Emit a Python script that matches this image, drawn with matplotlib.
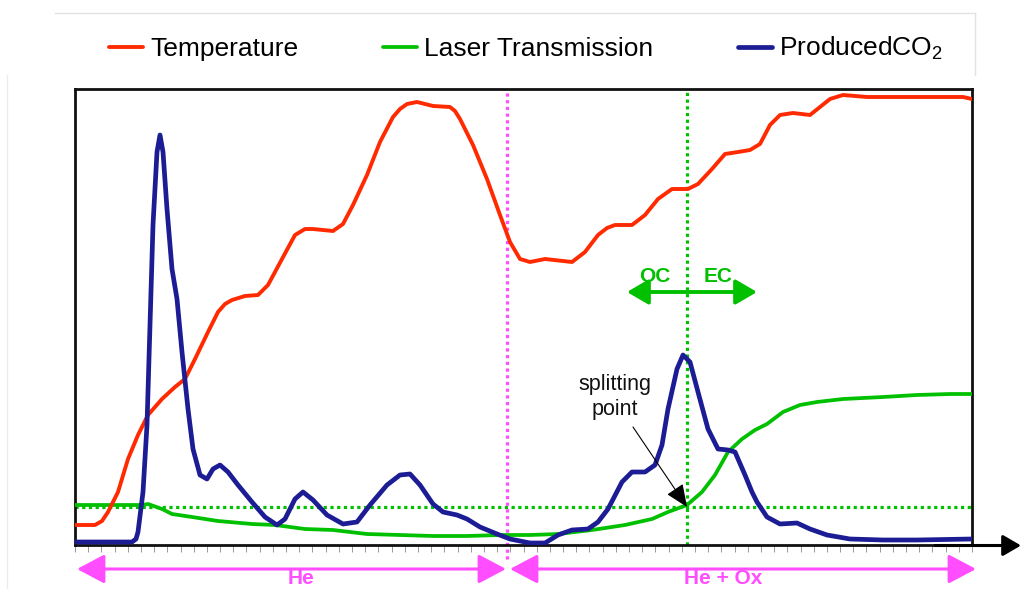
import matplotlib
matplotlib.use("Agg")
import matplotlib.pyplot as plt
from matplotlib.lines import Line2D
import numpy as np

plt.rcParams['font.family'] = ['Liberation Sans', 'DejaVu Sans']
plt.rcParams['mathtext.fontset'] = 'custom'
plt.rcParams['mathtext.rm'] = 'Liberation Sans'
plt.rcParams['mathtext.default'] = 'regular'

# ---------------- data (time in arbitrary units, signal in arbitrary units) -------------
temp_t = [0, 20, 27, 33, 43, 53, 63, 73, 87, 100, 110, 120, 133, 143, 150, 157, 170, 183, 193, 207, 220,
          230, 238, 258, 268, 278, 292, 305, 318, 325, 332, 342, 358, 375, 380, 385, 398, 412, 425, 435,
          445, 455, 470, 497, 510, 523, 532, 540, 557, 570, 583, 597, 613, 623, 637, 650, 663, 675,
          685, 695, 705, 718, 735, 745, 755, 768, 792, 825, 858, 888, 897]
temp_v = [20, 20, 24, 33, 53, 86, 110, 130, 146, 158, 166, 186, 213, 233, 241, 245, 249, 250, 260, 286, 310,
          316, 316, 314, 321, 340, 370, 403, 428, 436, 441, 443, 439, 438, 434, 426, 400, 366, 330, 303,
          286, 283, 286, 283, 293, 310, 317, 320, 320, 330, 346, 356, 356, 361, 376, 391, 393, 395,
          401, 420, 430, 432, 430, 438, 446, 450, 448, 448, 448, 448, 446]

laser_t = [0, 67, 73, 87, 97, 117, 143, 177, 200, 230, 258, 292, 325, 358, 392, 425, 455, 483,
           517, 550, 577, 593, 612, 627, 640, 653, 667, 680, 692, 708, 725, 742, 768, 808, 842,
           875, 897]
laser_v = [40, 40, 41, 36, 31, 28, 24, 21, 20, 16, 15, 11, 10, 9, 9, 10, 10, 11,
           15, 20, 26, 33, 40, 53, 70, 93, 106, 115, 121, 133, 140, 143, 146, 148, 150,
           151, 151]

co2_t = [0, 57, 61, 63, 68, 72, 75, 78, 82, 85, 88, 92, 97, 102, 107, 113, 118, 125, 132, 138, 145,
         153, 163, 177, 190, 202, 210, 220, 228, 238, 252, 268, 282, 295, 312, 325, 335, 345,
         358, 368, 382, 392, 405, 422, 435, 455, 470, 483, 497, 513, 523, 533, 547, 557, 570,
         580, 587, 593, 602, 608, 615, 623, 633, 643, 653, 660, 670, 677, 682, 692, 705, 722,
         735, 752, 775, 808, 842, 897]
co2_v = [3, 3, 6, 13, 53, 120, 220, 320, 393, 410, 393, 336, 276, 246, 193, 136, 96, 70, 66, 76, 80,
         73, 60, 43, 28, 20, 26, 46, 53, 45, 30, 21, 23, 40, 60, 70, 71, 60,
         41, 33, 30, 26, 18, 11, 6, 2, 2, 10, 15, 16, 23, 36, 63, 73, 73,
         80, 100, 136, 176, 190, 183, 153, 116, 96, 95, 93, 70, 53, 43, 28, 21, 22,
         16, 10, 6, 5, 5, 6]

series_labels = ['Temperature', 'Laser Transmission', 'ProducedCO$_2$']
phase_labels = ['He', 'He + Ox']
split_time = 612          # splitting point (time)
split_level = 38          # initial laser transmission level
gas_switch_time = 432     # He -> He + Ox
x_max, y_max = 897, 456
n_ticks = 68

RED = '#FF2A00'
GREEN = '#00C000'
NAVY = '#1C1C94'
MAGENTA = '#FF4DFF'

# ---------------- figure ----------------
W, H = 1021, 589
fig = plt.figure(figsize=(W / 100, H / 100), dpi=100)
ax = fig.add_axes([75 / W, 44 / H, 897 / W, 456 / H])
ax.set_xlim(0, x_max)
ax.set_ylim(0, y_max)

# faint page frame lines
fig.add_artist(Line2D([55 / W, 975 / W], [1 - 13 / H, 1 - 13 / H], color='#e2e2e2', lw=1))
fig.add_artist(Line2D([975 / W, 975 / W], [1 - 13 / H, 1 - 75 / H], color='#e2e2e2', lw=1))
fig.add_artist(Line2D([7 / W, 7 / W], [1 - 75 / H, 0], color='#ececec', lw=1))

# reference dotted lines
ax.axhline(split_level, color=GREEN, lw=2.3, ls=(0, (1, 1.1)), zorder=1)
ax.plot([split_time, split_time], [0, y_max - 2], color=GREEN, lw=2.3, ls=(0, (1, 1.1)), zorder=1)
ax.plot([gas_switch_time, gas_switch_time], [-14, y_max - 2], color=MAGENTA, lw=2.3,
        ls=(0, (1, 1.1)), zorder=1, clip_on=False)

# series
l_laser, = ax.plot(laser_t, laser_v, color=GREEN, lw=2.7, zorder=3,
                   solid_joinstyle='round', solid_capstyle='round')
l_temp, = ax.plot(temp_t, temp_v, color=RED, lw=2.8, zorder=4,
                  solid_joinstyle='round', solid_capstyle='round')
l_co2, = ax.plot(co2_t, co2_v, color=NAVY, lw=3.4, zorder=5,
                 solid_joinstyle='round', solid_capstyle='round')

# frame / ticks
for s in ax.spines.values():
    s.set_linewidth(2.0)
    s.set_color('#111111')
ax.set_yticks([])
ax.set_xticks(np.linspace(0, x_max, n_ticks + 1))
ax.tick_params(axis='x', direction='out', length=5, width=0.7, color='#999999', labelbottom=False)

# x-axis arrow extending beyond the frame
ax.annotate('', xy=(1021 / W, 1 - 545.5 / H), xycoords='figure fraction',
            xytext=(935 / W, 1 - 545.5 / H), textcoords='figure fraction',
            arrowprops=dict(arrowstyle='-|>,head_length=0.55,head_width=0.32', lw=2.2,
                            color='black', shrinkA=0, shrinkB=0, mutation_scale=20))

# OC / EC arrow
ax.annotate('', xy=(552, 253), xytext=(682, 253),
            arrowprops=dict(arrowstyle='<|-|>,head_length=0.65,head_width=0.38', lw=2.8,
                            color=GREEN, shrinkA=0, shrinkB=0, mutation_scale=20), zorder=6)
ax.text(580, 268, 'OC', color=GREEN, fontsize=15, fontweight='bold', ha='center', va='center')
ax.text(643, 268, 'EC', color=GREEN, fontsize=15, fontweight='bold', ha='center', va='center')

# splitting point annotation
ax.text(540, 148, 'splitting\npoint', ha='center', va='center', fontsize=15.5,
        linespacing=1.2, color='#111111', zorder=7)
ax.annotate('', xy=(split_time, split_level), xytext=(558, 118),
            arrowprops=dict(arrowstyle='-|>,head_length=0.7,head_width=0.3', lw=0.8,
                            color='black', shrinkA=0, shrinkB=0, mutation_scale=20),
            zorder=7)

# phase arrows below axis
ax.annotate('', xy=(2, -24), xytext=(431, -24), annotation_clip=False,
            arrowprops=dict(arrowstyle='<|-|>,head_length=0.85,head_width=0.45', lw=2.2,
                            color=MAGENTA, shrinkA=0, shrinkB=0, mutation_scale=20))
ax.annotate('', xy=(435, -24), xytext=(901, -24), annotation_clip=False,
            arrowprops=dict(arrowstyle='<|-|>,head_length=0.85,head_width=0.45', lw=2.2,
                            color=MAGENTA, shrinkA=0, shrinkB=0, mutation_scale=20))
ax.text(226, -38.5, phase_labels[0], color=MAGENTA, fontsize=15, fontweight='bold',
        ha='center', va='baseline', clip_on=False)
ax.text(648, -38.5, phase_labels[1], color=MAGENTA, fontsize=15, fontweight='bold',
        ha='center', va='baseline', clip_on=False)

# legend
fig.legend([l_temp, l_laser, l_co2], series_labels, loc='center',
           bbox_to_anchor=(526 / W, 1 - 48.5 / H), ncol=3, frameon=False, fontsize=19,
           handlelength=1.3, handletextpad=0.27, columnspacing=3.2, borderaxespad=0)

fig.savefig('out.png', dpi=100)
